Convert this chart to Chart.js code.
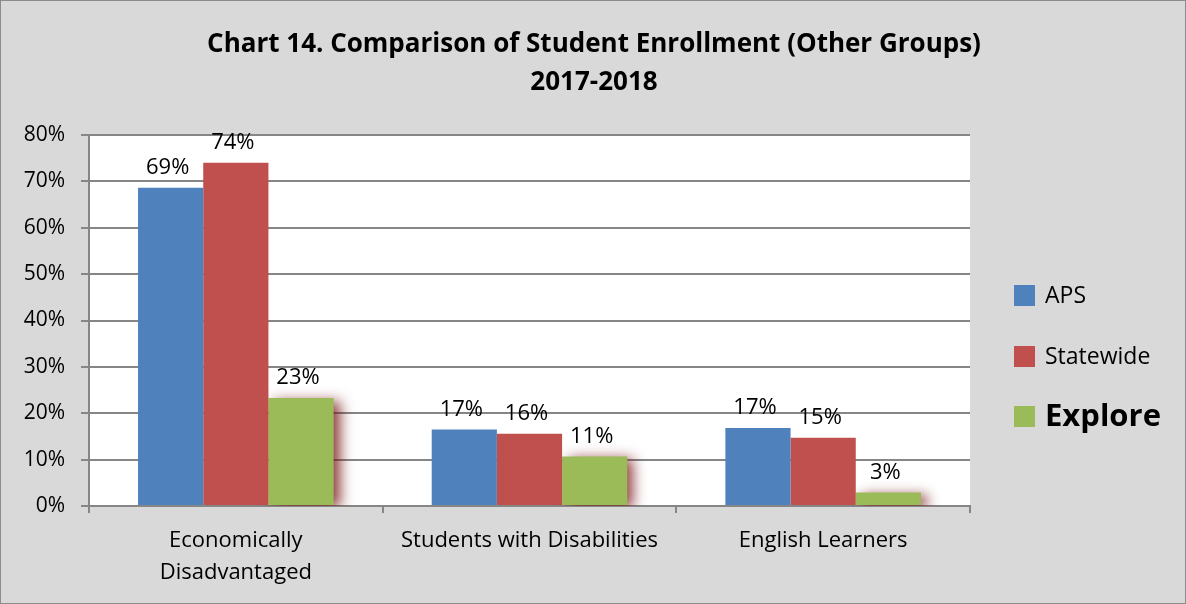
<!DOCTYPE html>
<html>
<head>
<meta charset="utf-8">
<script src="https://cdn.jsdelivr.net/npm/chart.js@4.4.0/dist/chart.umd.min.js"></script>
<style>
    html, body { margin: 0; padding: 0; background: #d9d9d9; }
    #wrap { width: 1186px; height: 604px; position: relative; box-sizing: border-box; border: 1px solid #8c8c8c; }
    canvas { display: block; }
</style>
</head>
<body>
<div id="wrap"><canvas id="chart1" width="1184" height="602"></canvas></div>
<script>
// data
const categories = [['Economically', 'Disadvantaged'], 'Students with Disabilities', 'English Learners'];
const apsValues = [68.6, 16.5, 16.8];
const statewideValues = [74.0, 15.6, 14.7];
const exploreValues = [23.3, 10.7, 2.9];
const seriesNames = ['APS', 'Statewide', 'Explore'];
const yTicks = [0, 10, 20, 30, 40, 50, 60, 70, 80];
const titleLines = ['Chart 14. Comparison of Student Enrollment (Other Groups)', '2017-2018'];

const FONT = "'Open Sans', sans-serif";
const colors = ['#4f81bd', '#c0504d', '#9bbb59'];

// white plot area + title
const backdrop = {
    id: 'backdrop',
    beforeDraw(chart) {
        const ctx = chart.ctx;
        const a = chart.chartArea;
        ctx.save();
        ctx.fillStyle = '#ffffff';
        ctx.fillRect(a.left, a.top, a.right - a.left, a.bottom - a.top);
        ctx.fillStyle = '#000';
        ctx.font = 'bold 26px ' + FONT;
        ctx.textAlign = 'center';
        ctx.textBaseline = 'middle';
        ctx.fillText(titleLines[0], 593, 44);
        ctx.fillText(titleLines[1], 593, 82);
        ctx.restore();
    }
};

// shadow behind the green bars
const barShadow = {
    id: 'barShadow',
    beforeDatasetDraw(chart, args) {
        if (args.index !== 2) return;
        const ctx = chart.ctx;
        ctx.save();
        ctx.shadowColor = 'rgba(120, 20, 20, 0.85)';
        ctx.shadowBlur = 13;
        ctx.shadowOffsetX = 6;
        ctx.shadowOffsetY = 3;
    },
    afterDatasetDraw(chart, args) {
        if (args.index !== 2) return;
        chart.ctx.restore();
    }
};

// value labels above bars and legend on the right
const labelsAndLegend = {
    id: 'labelsAndLegend',
    afterDatasetsDraw(chart) {
        const ctx = chart.ctx;
        ctx.save();
        ctx.fillStyle = '#000';
        ctx.font = '22px ' + FONT;
        ctx.textAlign = 'center';
        ctx.textBaseline = 'bottom';
        chart.data.datasets.forEach((ds, i) => {
            chart.getDatasetMeta(i).data.forEach((bar, j) => {
                ctx.fillText(Math.round(ds.data[j]) + '%', bar.x - 3, bar.y - 9);
            });
        });

        const rows = [294, 355, 415];
        chart.data.datasets.forEach((ds, i) => {
            ctx.fillStyle = ds.backgroundColor;
            ctx.fillRect(1013, rows[i] - 10, 21, 21);
            ctx.fillStyle = '#000';
            ctx.textAlign = 'left';
            ctx.textBaseline = 'middle';
            ctx.font = i === 2 ? 'bold 31px ' + FONT : '23px ' + FONT;
            ctx.fillText(ds.label, 1044, rows[i] + 1);
        });
        ctx.restore();
    }
};

const ctx = document.getElementById('chart1').getContext('2d');
const myChart = new Chart(ctx, {
    type: 'bar',
    data: {
        labels: categories,
        datasets: [
            { label: seriesNames[0], data: apsValues, backgroundColor: colors[0] },
            { label: seriesNames[1], data: statewideValues, backgroundColor: colors[1] },
            { label: seriesNames[2], data: exploreValues, backgroundColor: colors[2] }
        ]
    },
    options: {
        responsive: false,
        animation: false,
        categoryPercentage: 0.666,
        barPercentage: 1.0,
        layout: {
            padding: { top: 134, right: 215, left: 0, bottom: 0 }
        },
        plugins: {
            legend: { display: false },
            title: { display: false },
            tooltip: { enabled: false }
        },
        scales: {
            x: {
                offset: true,
                grid: {
                    offset: true,
                    drawOnChartArea: false,
                    drawTicks: true,
                    tickLength: 7,
                    color: '#868686',
                    lineWidth: 2
                },
                border: { color: '#868686', width: 2 },
                ticks: {
                    color: '#000',
                    font: { family: FONT, size: 22, lineHeight: 1.45 },
                    padding: 12,
                    maxRotation: 0
                },
                afterFit(scale) { scale.height = 97; }
            },
            y: {
                min: 0,
                max: 80,
                afterBuildTicks(scale) { scale.ticks = yTicks.map(v => ({ value: v })); },
                grid: {
                    color: '#868686',
                    lineWidth: 2,
                    drawTicks: true,
                    tickLength: 8
                },
                border: { color: '#868686', width: 2 },
                ticks: {
                    color: '#000',
                    font: { family: FONT, size: 21 },
                    padding: 16,
                    callback: v => v + '%'
                },
                afterFit(scale) { scale.width = 88; }
            }
        }
    },
    plugins: [backdrop, barShadow, labelsAndLegend]
});
</script>
</body>
</html>
